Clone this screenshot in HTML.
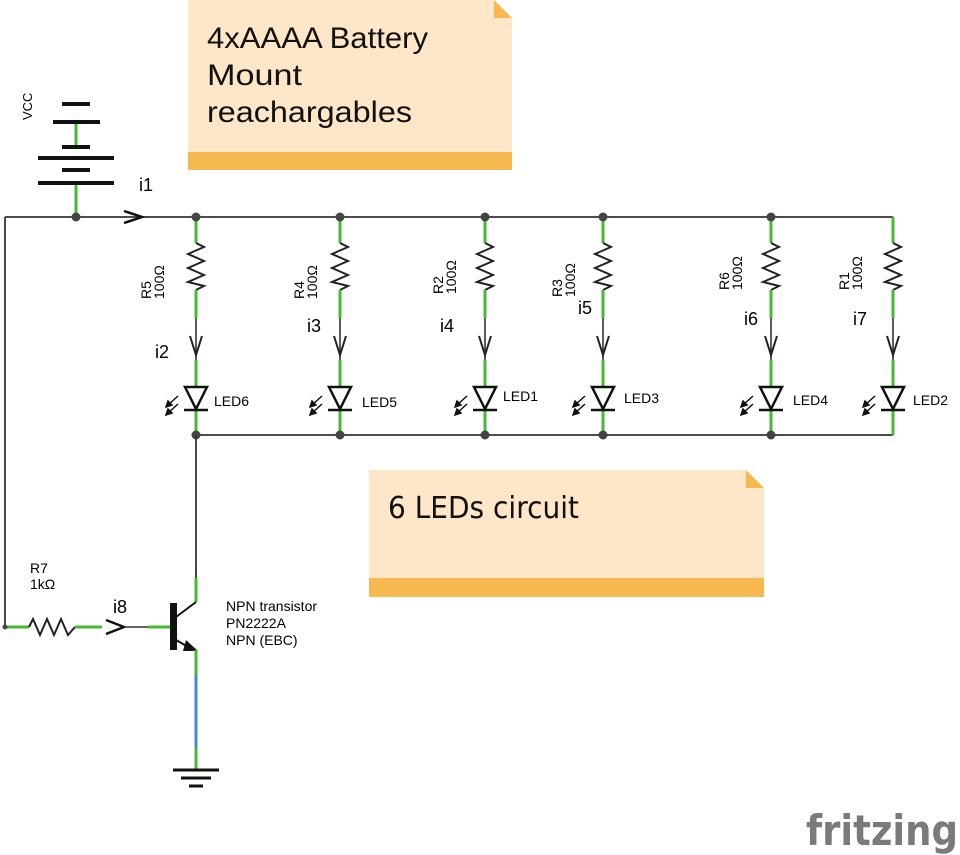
<!DOCTYPE html>
<html><head><meta charset="utf-8"><style>
html,body{margin:0;padding:0;background:#fff;}
svg{display:block;}
text{font-family:"Liberation Sans",sans-serif;}
.n{font-family:"DejaVu Sans","Liberation Sans",sans-serif;}
</style></head><body>
<svg width="960" height="855" viewBox="0 0 960 855" xmlns="http://www.w3.org/2000/svg">
<defs>
<g id="col">
  <line x1="0" y1="217" x2="0" y2="243" stroke="#44bb33" stroke-width="3"/>
  <polyline points="0,243 8,247 -8,254 8,261 -8,268 8,275 -8,282 8,286 0,290" fill="none" stroke="#222" stroke-width="2"/>
  <line x1="0" y1="290" x2="0" y2="318" stroke="#44bb33" stroke-width="3"/>
  <line x1="0" y1="318" x2="0" y2="360" stroke="#333" stroke-width="1.6"/>
  <polyline points="-6,336 0,355 6,336" fill="none" stroke="#222" stroke-width="2"/>
  <line x1="0" y1="360" x2="0" y2="435" stroke="#44bb33" stroke-width="3"/>
  <polygon points="-11,387 11,387 0,409" fill="#fff" stroke="#111" stroke-width="2.5"/>
  <line x1="-12" y1="410" x2="12" y2="410" stroke="#111" stroke-width="2.5"/>
  <g stroke="#111" stroke-width="1.5" fill="#111">
    <line x1="-18" y1="396" x2="-28" y2="405"/><polygon points="-30,407 -28,401 -24,405"/>
    <line x1="-18" y1="404" x2="-28" y2="413"/><polygon points="-30,415 -28,409 -24,413"/>
  </g>
</g>
</defs>

<polygon points="188,0 494,0 512,18 512,170 188,170" fill="#fde7c8"/>
<polygon points="494,0 512,18 494,18" fill="#f7b850"/>
<rect x="188" y="152" width="324" height="18" fill="#f7b850"/>
<g font-size="30" class="n" fill="#111" textLength="0">
<text x="207" y="48" textLength="221" lengthAdjust="spacingAndGlyphs">4xAAAA Battery</text>
<text x="207" y="85" textLength="95" lengthAdjust="spacingAndGlyphs">Mount</text>
<text x="207" y="122" textLength="205" lengthAdjust="spacingAndGlyphs">reachargables</text>
</g>

<polygon points="369,470 746,470 764,488 764,597 369,597" fill="#fde7c8"/>
<polygon points="746,470 764,488 746,488" fill="#f7b850"/>
<rect x="369" y="578" width="395" height="19" fill="#f7b850"/>
<text x="388" y="518" font-size="30" class="n" fill="#111" textLength="191" lengthAdjust="spacingAndGlyphs">6 LEDs circuit</text>

<g stroke="#111" stroke-width="4">
  <line x1="62" y1="104" x2="90" y2="104"/>
  <line x1="53" y1="122" x2="100" y2="122"/>
  <line x1="62" y1="147" x2="90" y2="147"/>
  <line x1="38" y1="158" x2="114" y2="158"/>
  <line x1="62" y1="170" x2="90" y2="170"/>
  <line x1="38" y1="183" x2="114" y2="183"/>
</g>
<line x1="76" y1="124" x2="76" y2="145" stroke="#44bb33" stroke-width="3"/>
<line x1="76" y1="185" x2="76" y2="217" stroke="#44bb33" stroke-width="3"/>
<text transform="translate(32,120) rotate(-90)" font-size="13">VCC</text>

<line x1="5" y1="217" x2="893" y2="217" stroke="#333" stroke-width="1.8"/>
<line x1="196" y1="435" x2="893" y2="435" stroke="#333" stroke-width="1.8"/>
<line x1="5" y1="217" x2="5" y2="625" stroke="#333" stroke-width="1.8"/>
<polyline points="124,211 142,217 124,223" fill="none" stroke="#111" stroke-width="2.5"/>
<text x="139" y="191" font-size="18">i1</text>
<circle cx="76" cy="217" r="4.5" fill="#444"/>

<use href="#col" x="196"/>
<use href="#col" x="340"/>
<use href="#col" x="485"/>
<use href="#col" x="603"/>
<use href="#col" x="771"/>
<use href="#col" x="893"/>
<g fill="#444">
<circle cx="196" cy="217" r="4.5"/><circle cx="340" cy="217" r="4.5"/><circle cx="485" cy="217" r="4.5"/><circle cx="603" cy="217" r="4.5"/><circle cx="771" cy="217" r="4.5"/>
<circle cx="196" cy="435" r="4.5"/><circle cx="340" cy="435" r="4.5"/><circle cx="485" cy="435" r="4.5"/><circle cx="603" cy="435" r="4.5"/><circle cx="771" cy="435" r="4.5"/>
</g>

<g font-size="14">
<text transform="translate(151,299) rotate(-90)">R5</text><text transform="translate(164,299) rotate(-90)">100Ω</text>
<text transform="translate(304,299) rotate(-90)">R4</text><text transform="translate(317,299) rotate(-90)">100Ω</text>
<text transform="translate(443,294) rotate(-90)">R2</text><text transform="translate(456,294) rotate(-90)">100Ω</text>
<text transform="translate(562,297) rotate(-90)">R3</text><text transform="translate(575,297) rotate(-90)">100Ω</text>
<text transform="translate(729,290) rotate(-90)">R6</text><text transform="translate(742,290) rotate(-90)">100Ω</text>
<text transform="translate(849,290) rotate(-90)">R1</text><text transform="translate(862,290) rotate(-90)">100Ω</text>
</g>
<g font-size="18">
<text x="155" y="358">i2</text><text x="307" y="332">i3</text><text x="440" y="332">i4</text>
<text x="578" y="314">i5</text><text x="744" y="325">i6</text><text x="853" y="325">i7</text>
</g>
<g font-size="14">
<text x="214" y="406">LED6</text><text x="362" y="407">LED5</text><text x="503" y="401">LED1</text>
<text x="624" y="403">LED3</text><text x="793" y="405">LED4</text><text x="913" y="405">LED2</text>
</g>

<line x1="196" y1="435" x2="196" y2="580" stroke="#333" stroke-width="1.8"/>
<line x1="196" y1="578" x2="196" y2="602" stroke="#44bb33" stroke-width="3"/>
<line x1="176" y1="617" x2="196" y2="602" stroke="#111" stroke-width="2"/>
<rect x="170" y="603" width="7" height="47" fill="#111"/>
<line x1="176" y1="640" x2="190" y2="648" stroke="#111" stroke-width="2"/>
<polygon points="186,640 198,651 183,651" fill="#111"/>
<line x1="196" y1="650" x2="196" y2="675" stroke="#44bb33" stroke-width="3"/>
<line x1="196" y1="675" x2="196" y2="747" stroke="#4488dd" stroke-width="3"/>
<line x1="196" y1="747" x2="196" y2="770" stroke="#44bb33" stroke-width="3"/>
<g stroke="#111" stroke-width="3">
<line x1="173" y1="770" x2="219" y2="770"/><line x1="181" y1="778" x2="211" y2="778"/><line x1="189" y1="786" x2="203" y2="786"/>
</g>
<g font-size="14"><text x="226" y="611">NPN transistor</text><text x="226" y="628">PN2222A</text><text x="226" y="645">NPN (EBC)</text></g>

<line x1="5" y1="627" x2="29" y2="627" stroke="#44bb33" stroke-width="3"/>
<polyline points="29,627 33,619 40,635 47,619 54,635 61,619 68,635 75,627" fill="none" stroke="#222" stroke-width="2"/>
<line x1="75" y1="627" x2="102" y2="627" stroke="#44bb33" stroke-width="3"/>
<polyline points="106,620 124,627 106,634" fill="none" stroke="#111" stroke-width="2.5"/>
<line x1="124" y1="627" x2="150" y2="627" stroke="#333" stroke-width="1.6"/>
<line x1="148" y1="627" x2="170" y2="627" stroke="#44bb33" stroke-width="3"/>
<circle cx="5" cy="627" r="2.5" fill="#444"/>
<text x="30" y="573" font-size="14">R7</text><text x="30" y="589" font-size="14">1kΩ</text>
<text x="113" y="613" font-size="18">i8</text>

<text x="806" y="845" font-size="42" class="n" font-weight="bold" fill="#7a7a7a" textLength="152" lengthAdjust="spacingAndGlyphs">fritzing</text>
</svg>
</body></html>
